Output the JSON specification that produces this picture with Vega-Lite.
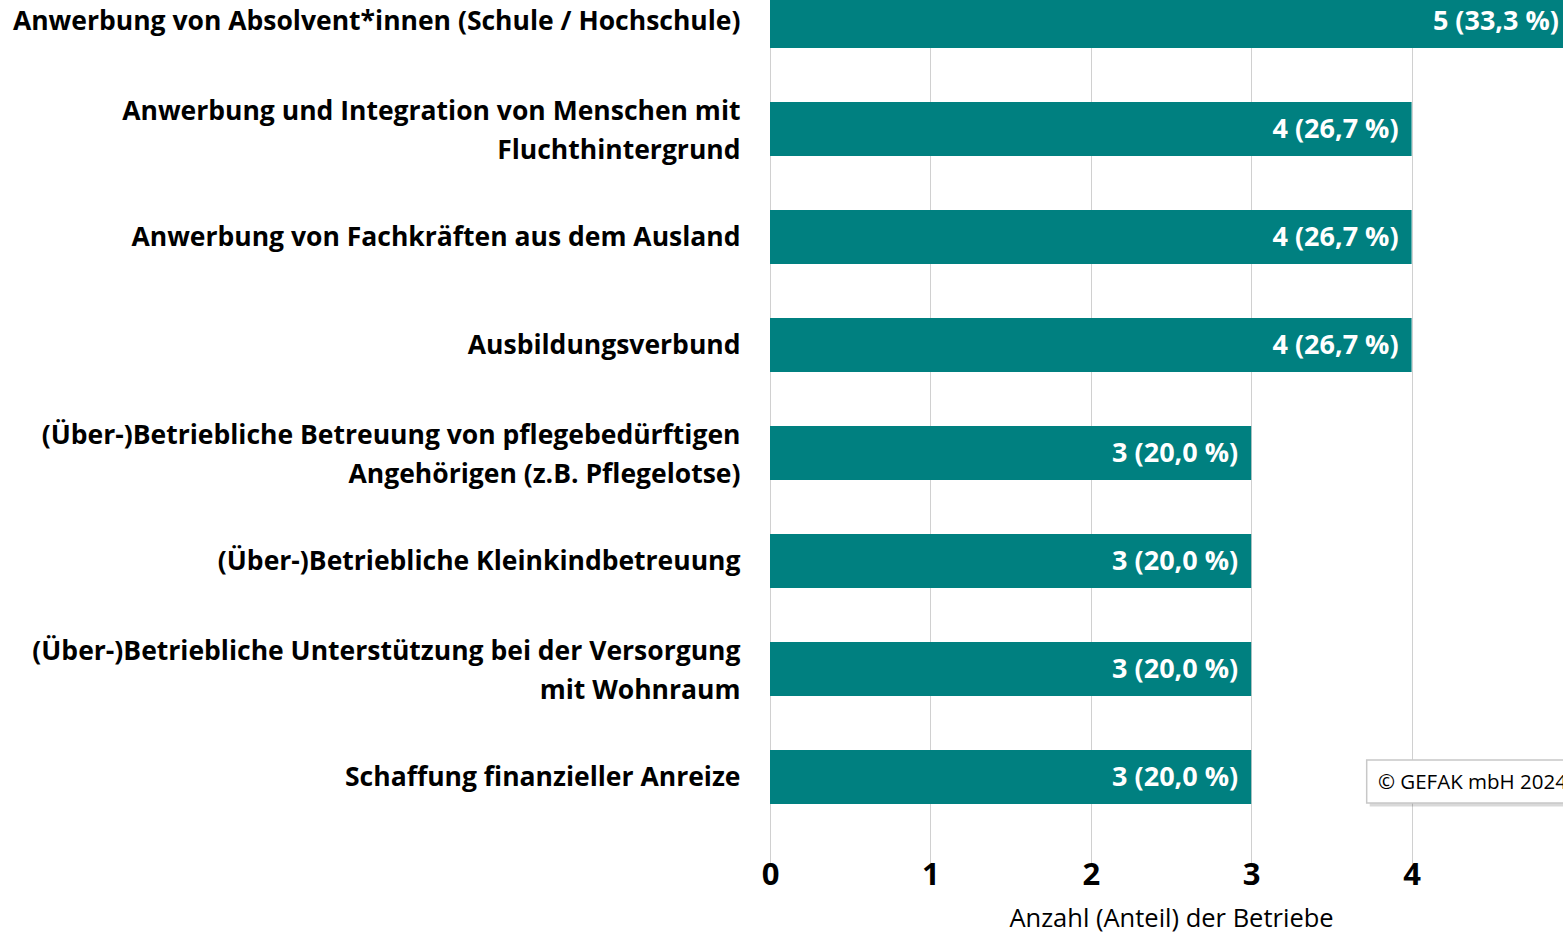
{
  "$schema": "https://vega.github.io/schema/vega-lite/v6.json",
  "width": 793,
  "height": 831,
  "autosize": {"type": "none"},
  "padding": {"left": 770, "top": 0, "right": 0, "bottom": 102},
  "background": "white",
  "config": {
    "view": {"stroke": null},
    "font": "Open Sans"
  },
  "datasets": {
    "bars": [
      {"cat": "Anwerbung von Absolvent*innen (Schule / Hochschule)", "n": 5, "label": "5 (33,3 %)"},
      {"cat": "Anwerbung und Integration von Menschen mit|Fluchthintergrund", "n": 4, "label": "4 (26,7 %)"},
      {"cat": "Anwerbung von Fachkräften aus dem Ausland", "n": 4, "label": "4 (26,7 %)"},
      {"cat": "Ausbildungsverbund", "n": 4, "label": "4 (26,7 %)"},
      {"cat": "(Über-)Betriebliche Betreuung von pflegebedürftigen|Angehörigen (z.B. Pflegelotse)", "n": 3, "label": "3 (20,0 %)"},
      {"cat": "(Über-)Betriebliche Kleinkindbetreuung", "n": 3, "label": "3 (20,0 %)"},
      {"cat": "(Über-)Betriebliche Unterstützung bei der Versorgung|mit Wohnraum", "n": 3, "label": "3 (20,0 %)"},
      {"cat": "Schaffung finanzieller Anreize", "n": 3, "label": "3 (20,0 %)"}
    ],
    "note": [
      {"cat": "Schaffung finanzieller Anreize", "x": 3.72, "x2": 5.3, "tx": 3.79, "text": "© GEFAK mbH 2024"}
    ]
  },
  "layer": [
    {
      "data": {"name": "bars"},
      "mark": {"type": "bar", "color": "#008080"},
      "encoding": {
        "y": {
          "field": "cat", "type": "nominal", "sort": null,
          "scale": {"range": [-33, 831], "paddingInner": 0.5, "paddingOuter": 0.25},
          "axis": {
            "title": null, "domain": false, "ticks": false, "grid": false,
            "labelExpr": "split(datum.label, '|')",
            "labelFont": "Open Sans", "labelFontWeight": "bold", "labelFontSize": 26.5,
            "labelColor": "#000000", "labelPadding": 30, "labelLimit": 900,
            "labelLineHeight": 39,
            "labelOffset": {"condition": {"test": "indexof(datum.value, '|') >= 0", "value": -17.5}, "value": 1}
          }
        },
        "x": {
          "field": "n", "type": "quantitative",
          "scale": {"domain": [0, 5], "range": [0, 802], "nice": false},
          "axis": {
            "values": [0, 1, 2, 3, 4],
            "format": "d",
            "labelFlush": false,
            "title": "Anzahl (Anteil) der Betriebe",
            "titleFont": "Open Sans", "titleFontWeight": "normal", "titleFontSize": 25.5,
            "titleColor": "#000000", "titleX": 401, "titlePadding": 16,
            "labelFont": "Open Sans", "labelFontWeight": "bold", "labelFontSize": 31,
            "labelColor": "#000000", "labelPadding": 29,
            "domain": false, "ticks": false,
            "grid": true, "gridColor": "#d0d0d0", "gridWidth": 1
          }
        }
      }
    },
    {
      "data": {"name": "bars"},
      "mark": {"type": "text", "align": "right", "baseline": "middle", "dx": -13, "dy": 1, "color": "white", "font": "Open Sans", "fontWeight": "bold", "fontSize": 27},
      "encoding": {
        "y": {"field": "cat", "type": "nominal", "sort": null},
        "x": {"field": "n", "type": "quantitative"},
        "text": {"field": "label"}
      }
    },
    {
      "data": {"name": "note"},
      "mark": {"type": "bar", "height": 43, "yOffset": 8, "xOffset": 3, "color": "#000000", "opacity": 0.15},
      "encoding": {
        "y": {"field": "cat", "type": "nominal", "sort": null},
        "x": {"field": "x", "type": "quantitative"},
        "x2": {"field": "x2"}
      }
    },
    {
      "data": {"name": "note"},
      "mark": {"type": "bar", "height": 43, "yOffset": 4.5, "fill": "white", "stroke": "#c8c8c8", "strokeWidth": 1.5},
      "encoding": {
        "y": {"field": "cat", "type": "nominal", "sort": null},
        "x": {"field": "x", "type": "quantitative"},
        "x2": {"field": "x2"}
      }
    },
    {
      "data": {"name": "note"},
      "mark": {"type": "text", "align": "left", "baseline": "middle", "yOffset": 6, "color": "#000000", "font": "Open Sans", "fontSize": 20.5},
      "encoding": {
        "y": {"field": "cat", "type": "nominal", "sort": null},
        "x": {"field": "tx", "type": "quantitative"},
        "text": {"field": "text"}
      }
    }
  ]
}
